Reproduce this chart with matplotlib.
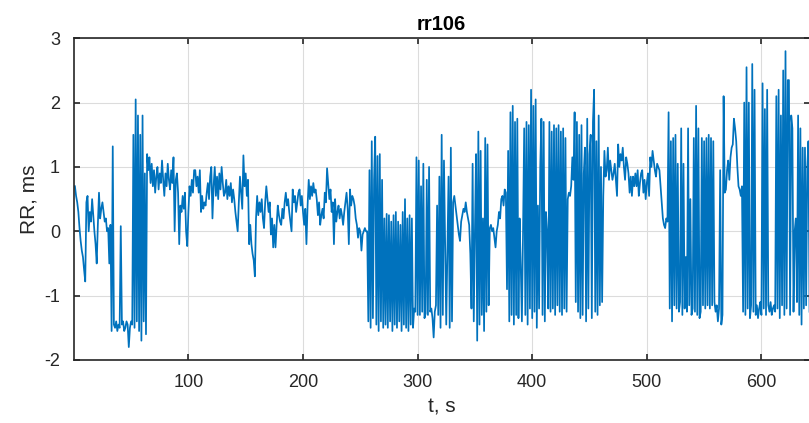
import numpy as np
import matplotlib
matplotlib.use("Agg")
import matplotlib.pyplot as plt

# RR values, one value per second, t = 1 .. 642
rr_001_065 = [0.70, 0.55, 0.45, 0.30, 0.05, -0.15, -0.30, -0.40, -0.60, -0.78,
              0.45, 0.55, 0.00, 0.30, 0.15, 0.50, 0.25, 0.00, -0.20, -0.50,
              0.10, 0.60, 0.20, 0.35, 0.45, 0.30, 0.15, 0.20, 0.00, 0.05,
              -0.50, 0.10, -1.55, 1.32, -1.45, -1.50, -1.40, -1.55, -1.45, -1.50,
              0.08, -1.45, -1.40, -1.55, -1.50, -1.40, -1.45, -1.80, -1.50, -1.40,
              -1.45, 1.50, -1.50, 2.05, -1.40, 1.80, -1.55, 1.50, -1.70, 1.80,
              -1.40, 0.90, -1.60, 1.20, 0.95]
rr_066_105 = [1.15, 0.75, 1.05, 0.70, 0.95, 0.60, 0.85, 1.00, 0.65, 0.90,
              0.75, 1.10, 0.80, 0.55, 0.90, 0.70, 1.05, 0.80, 0.65, 0.95,
              0.75, 1.15, 0.00, 0.80, 0.90, 0.60, -0.20, 0.40, 0.30, 0.55,
              0.35, 0.60, 0.00, -0.23, 0.30, 0.70, 0.55, 0.80, 0.60, 0.95]
rr_106_205 = [0.95, 0.70, 0.85, 0.60, 0.95, 0.30, 0.55, 0.35, 0.45, 0.40,
              0.60, 0.75, 0.50, 0.85, 1.00, 0.20, 0.70, 1.00, 0.55, 0.85,
              0.50, 0.90, 0.65, 1.00, 0.75, 0.55, 0.60, 0.80, 0.50, 0.70,
              0.55, 0.75, 0.45, 0.65, 0.50, 0.30, 0.15, 0.00, 0.45, 0.85,
              0.60, 0.35, 1.18, 0.70, 0.90, 0.55, 0.80, -0.20, 0.10, -0.20,
              -0.35, -0.45, -0.70, 0.20, 0.55, 0.25, 0.45, 0.30, 0.50, 0.20,
              0.05, 0.45, 0.70, 0.50, 0.30, 0.45, -0.05, 0.20, -0.25, 0.10,
              -0.25, 0.10, 0.40, 0.25, 0.15, 0.10, 0.35, 0.20, 0.45, 0.60,
              0.40, 0.50, 0.30, 0.15, 0.00, 0.65, 0.45, 0.55, 0.30, 0.45,
              0.60, 0.65, 0.40, 0.55, 0.30, 0.10, 0.35, -0.20, 0.40, 0.80]
rr_206_255 = [0.50, 0.70, 0.55, 0.75, 0.60, 0.65, 0.50, 0.25, 0.45, 0.10,
              0.25, 0.35, 0.20, 0.60, 0.45, 0.98, 0.75, 0.50, 0.65, 0.30,
              0.45, -0.20, 0.50, 0.15, 0.30, 0.40, 0.20, 0.35, 0.25, 0.10,
              0.30, 0.45, 0.60, 0.35, -0.20, 0.65, 0.40, 0.55, 0.50, 0.40,
              0.20, 0.10, -0.10, 0.05, 0.00, -0.30, -0.05, 0.00, 0.05, 0.00]
rr_256_300 = [0.00, -1.40, 0.95, -1.50, 1.40, -1.35, 0.80, 1.47, -1.45, 1.17,
              -1.55, 1.20, -1.40, 0.80, -1.50, 0.20, -1.45, 0.27, -1.50, 0.25,
              -1.40, 0.15, -1.55, 0.25, -1.45, 0.30, -1.50, 0.15, -1.40, 0.10,
              -1.55, 0.30, -1.45, 0.50, -1.50, 0.20, -1.55, 0.25, -1.45, 0.20,
              -1.50, -1.20, -1.25, 1.15, -1.30]
rr_301_346 = [1.10, -1.30, 0.70, -1.25, 1.05, -1.35, -1.28, 0.80, -1.30, 1.00,
              -1.25, -1.20, -1.35, -1.65, -1.25, -1.15, 0.40, -1.30, 0.85, -1.50,
              1.50, -1.30, 1.10, -0.20, -1.45, -0.30, 0.85, -1.50, 1.30, -1.40,
              0.45, 0.55, 0.40, 0.25, 0.10, -0.05, -0.15, 0.15, 0.25, 0.35,
              0.30, 0.45, 0.30, 0.20, 0.10, -0.35]
rr_347_414 = [-1.20, 1.05, -1.40, 0.00, 1.20, -1.70, 1.55, -1.45, 1.25, -1.30,
              0.20, -1.55, 1.45, -1.25, 1.35, -1.15, 0.05, 0.10, 0.00, 0.05,
              -0.10, -0.25, 0.00, 0.10, 0.30, 0.20, 0.50, 0.55, 0.40, 0.65,
              0.60, -0.90, 1.25, -1.40, 1.85, -1.30, 1.95, -1.45, 1.70, -1.30,
              1.75, -1.35, 0.20, -0.55, -1.40, 0.00, 1.60, -1.30, 1.70, -1.45,
              1.65, -1.20, 2.20, -1.35, 1.95, -1.25, 2.05, -1.50, 0.40, -1.20,
              1.00, 1.75, -1.30, 1.70, -1.40, 0.30, 0.00, -1.20]
rr_415_462 = [1.70, -1.25, 1.55, -1.20, 1.65, -1.30, 1.60, -1.15, 1.65, -1.25,
              1.55, -1.30, 1.60, -1.20, 1.45, -1.25, 0.50, 0.60, 0.55, 0.70,
              1.15, 0.80, 1.85, -1.10, 1.70, -1.25, 1.50, -1.35, 1.65, -1.30,
              0.90, 1.30, -1.40, 1.75, -1.20, 1.20, 1.50, -1.35, 1.70, 2.20,
              -1.25, 1.40, -1.30, 1.80, -1.15, 1.00, -1.10, 0.55]
rr_463_518 = [1.25, 0.85, 0.95, 1.30, 0.80, 1.10, 0.95, 0.80, 0.90, 1.05,
              0.80, 0.55, 1.35, 1.00, 1.20, 1.10, 1.30, 1.00, 0.80, 1.15,
              1.05, 0.90, 0.60, 0.85, 0.55, 0.85, 0.70, 0.90, 0.70, 0.95,
              0.55, 0.75, 0.90, 0.95, 0.60, 0.80, 0.50, 0.75, 0.90, 0.55,
              1.15, 1.00, 1.25, 1.10, 0.95, 0.85, 1.05, 1.00, 0.95, 0.70,
              0.45, 0.20, 0.10, 0.05, 0.20, 0.15]
rr_519_583 = [1.85, -1.20, 1.40, -1.40, 1.45, -1.15, 1.50, -1.20, 1.05, -1.25,
              -1.10, 1.60, -1.30, 1.05, -1.20, -0.40, -1.25, 1.60, -1.15, 0.50,
              -1.30, -1.20, 1.45, -1.25, 1.95, -1.30, 1.60, -1.35, -1.25, 1.45,
              -1.15, 1.40, -1.20, 1.45, -1.15, 1.50, -1.20, 1.45, -1.15, 1.40,
              -1.10, -1.25, -1.15, -1.40, -1.20, 0.95, -1.45, -1.30, 2.10, 0.60,
              0.65, 0.95, 1.10, 0.80, 1.15, 1.30, 1.35, 1.75, 1.60, 1.40,
              1.00, 0.70, 0.65, 0.55, 0.70]
rr_584_642 = [-1.25, 2.00, -1.30, 2.55, -1.20, 2.00, -1.35, -1.15, 2.60, -1.25,
              2.20, -1.30, -1.15, -1.35, -1.20, -1.10, -1.30, 2.30, -1.20, 1.90,
              -1.30, 2.20, -1.15, -1.25, -1.10, -1.30, -1.20, -1.15, -1.25, 2.10,
              -1.20, 2.20, -1.35, 1.80, -1.15, 2.50, -1.30, 2.80, -1.20, 2.35,
              2.35, -1.30, 1.80, 1.60, -1.25, 0.00, 0.20, -1.10, 1.80, -1.30,
              1.60, -1.45, 1.30, -1.20, 1.30, -1.15, 1.00, 1.40, -1.25]

rr = np.concatenate([rr_001_065, rr_066_105, rr_106_205, rr_206_255,
                     rr_256_300, rr_301_346, rr_347_414, rr_415_462,
                     rr_463_518, rr_519_583, rr_584_642])
t = np.arange(1, len(rr) + 1)

plt.rcParams['font.family'] = ['Liberation Sans', 'DejaVu Sans']
plt.rcParams['axes.unicode_minus'] = False

fig = plt.figure(figsize=(8.09, 4.23), dpi=100)
ax = fig.add_axes([0.0912, 0.149, 0.9095, 0.7605])

ax.plot(t, rr, color='#0072BD', linewidth=1.25)

ax.set_xlim(0, 642)
ax.set_ylim(-2, 3)
ax.set_xticks([100, 200, 300, 400, 500, 600])
ax.set_yticks([-2, -1, 0, 1, 2, 3])
ax.grid(True, color='#dcdcdc', linewidth=0.8)
ax.set_axisbelow(True)
ax.tick_params(direction='in', length=4, width=1.2, top=True, right=True,
               labelsize=13, colors='#262626', pad=10)
for s in ax.spines.values():
    s.set_color('#262626')
    s.set_linewidth(1.2)

ax.set_title('rr106', fontsize=14.5, fontweight='bold', pad=6)
ax.set_xlabel('t, s', fontsize=15, color='#262626', labelpad=5)
ax.set_ylabel('RR, ms', fontsize=15, color='#262626', labelpad=4)

fig.savefig('out.png', dpi=100)
